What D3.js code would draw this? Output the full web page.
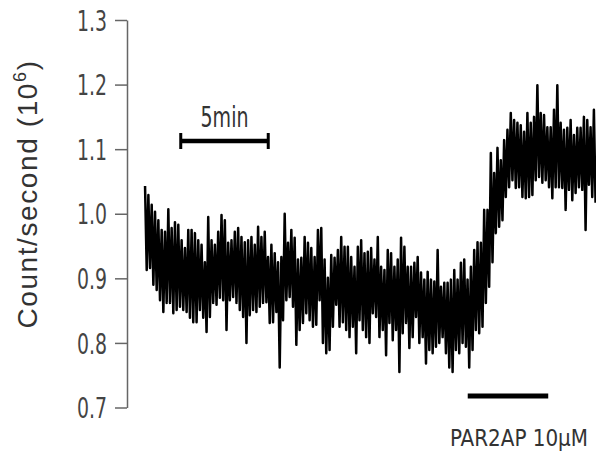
<!DOCTYPE html>
<html><head><meta charset="utf-8">
<script src="https://cdn.jsdelivr.net/npm/d3@7"></script>
<style>body{margin:0;background:#fff}svg{display:block}</style>
</head><body><svg id="c" width="596" height="459"></svg>
<script>
// ---- data ----
const yTicks = [0.7, 0.8, 0.9, 1.0, 1.1, 1.2, 1.3];
const sampleStartMin = 0.06;   // time of first sample (min)
const sampleStepMin = 0.19;    // sampling interval (min)
const traceHigh = [
1.043,1.029,1.014,1.003,0.990,0.975,0.972,1.007,0.978,0.987,0.983,0.959,0.947,0.975,0.975,0.970,0.959,0.952,0.925,0.995,0.959,0.952,0.972,0.998,0.990,0.955,0.959,0.972,0.978,0.964,0.956,0.959,0.964,0.952,
0.980,0.964,0.972,0.933,0.952,0.939,0.925,0.933,1.000,0.955,0.975,0.963,0.929,0.932,0.964,0.955,0.947,0.933,0.975,0.978,0.929,0.901,0.936,0.932,0.944,0.964,0.949,0.949,0.933,0.918,0.949,0.959,0.939,
0.941,0.947,0.929,0.964,0.918,0.913,0.944,0.939,0.918,0.929,0.963,0.949,0.918,0.918,0.924,0.933,0.909,0.898,0.910,0.898,0.895,0.944,0.887,0.893,0.893,0.898,0.913,0.898,0.924,0.929,0.898,0.918,0.944,0.956,
0.955,1.006,1.006,1.094,1.063,1.102,1.083,1.114,1.130,1.156,1.145,1.141,1.137,1.127,1.156,1.141,1.150,1.199,1.156,1.153,1.134,1.134,1.161,1.199,1.141,1.130,1.133,1.145,1.122,1.133,1.133,1.150,1.145,1.134,1.161
];
const traceLow = [
0.913,0.916,0.890,0.882,0.866,0.848,0.862,0.862,0.846,0.851,0.856,0.851,0.848,0.839,0.832,0.832,0.851,0.839,0.817,0.840,0.862,0.859,0.870,0.866,0.820,0.866,0.871,0.862,0.851,0.840,0.800,0.843,0.851,0.848,
0.856,0.862,0.863,0.831,0.832,0.848,0.762,0.835,0.866,0.871,0.856,0.797,0.820,0.831,0.846,0.835,0.825,0.828,0.866,0.800,0.784,0.789,0.825,0.859,0.825,0.832,0.820,0.809,0.825,0.784,0.835,0.820,0.809,
0.800,0.846,0.840,0.809,0.820,0.781,0.831,0.804,0.820,0.755,0.815,0.831,0.792,0.809,0.840,0.800,0.809,0.768,0.789,0.784,0.794,0.800,0.809,0.784,0.762,0.755,0.789,0.784,0.800,0.794,0.762,0.789,0.820,0.815,
0.825,0.862,0.887,0.925,0.970,0.980,0.990,1.026,1.041,1.052,1.040,1.041,1.026,1.024,1.026,1.029,1.052,1.057,1.048,1.052,1.041,1.024,1.041,1.041,1.040,1.006,1.037,1.021,1.032,1.041,1.037,0.975,1.045,1.026,1.017
];
const scaleBarMin = [2.1, 7.1];
const scaleBarLabel = "5min";
const drugBarMin = [18.5, 23.1];
const drugLabel = "PAR2AP 10\u03BCM";
const yTitleMain = "Count/second (10";
const yTitleSup = "6";
const yTitleEnd = ")";

// ---- drawing ----
const svg = d3.select("#c");
const narrow = "'Liberation Sans Narrow','DejaVu Sans Condensed','Arial Narrow',sans-serif";
const x = d3.scaleLinear().domain([0, 25.83]).range([144, 596]);
const y = d3.scaleLinear().domain([0.7, 1.3]).range([407.5, 20]);

// y axis
const ax = svg.append("g").attr("transform", "translate(127,0)")
  .call(d3.axisLeft(y).tickValues(yTicks).tickFormat(d3.format(".1f"))
    .tickSize(12).tickSizeOuter(0).tickPadding(8));
ax.select(".domain").attr("stroke", "#666").attr("stroke-width", 1.5);
ax.selectAll(".tick line").attr("stroke", "#666").attr("stroke-width", 1.5);
ax.selectAll(".tick text")
  .attr("fill", "#444").style("font-family", narrow).style("font-size", "28px")
  .attr("dy", "0.36em")
  .attr("textLength", 30).attr("lengthAdjust", "spacingAndGlyphs");

// y title
const tt = svg.append("text")
  .attr("transform", "translate(37,194) rotate(-90)")
  .attr("text-anchor", "middle")
  .attr("fill", "#333")
  .style("font-family", "'Liberation Sans',Arial,sans-serif")
  .style("font-size", "28px")
  .style("letter-spacing", "1.6px");
tt.append("tspan").text(yTitleMain);
tt.append("tspan").attr("dy", -11).style("font-size", "18px").text(yTitleSup);
tt.append("tspan").attr("dy", 11).text(yTitleEnd);

// trace
const pts = [];
traceHigh.forEach((h, i) => {
  const t = sampleStartMin + i * sampleStepMin;
  pts.push([t, h]);
  pts.push([t + sampleStepMin / 2, traceLow[i]]);
});
svg.append("path")
  .attr("d", d3.line().x(d => x(d[0])).y(d => y(d[1]))(pts))
  .attr("fill", "none").attr("stroke", "#000")
  .attr("stroke-width", 2.5).attr("stroke-linejoin", "round");

// 5 min scale bar
const sbY = 141;
const sb = svg.append("g");
sb.append("line").attr("x1", x(scaleBarMin[0])).attr("x2", x(scaleBarMin[1]))
  .attr("y1", sbY).attr("y2", sbY).attr("stroke", "#000").attr("stroke-width", 4.5);
scaleBarMin.forEach(t => sb.append("line").attr("x1", x(t)).attr("x2", x(t))
  .attr("y1", sbY - 8).attr("y2", sbY + 8).attr("stroke", "#000").attr("stroke-width", 3));
sb.append("text").attr("x", x((scaleBarMin[0] + scaleBarMin[1]) / 2)).attr("y", 127)
  .attr("text-anchor", "middle").attr("fill", "#333")
  .style("font-family", narrow).style("font-size", "28px")
  .attr("textLength", 48).attr("lengthAdjust", "spacingAndGlyphs")
  .text(scaleBarLabel);

// drug bar
svg.append("line").attr("x1", x(drugBarMin[0])).attr("x2", x(drugBarMin[1]))
  .attr("y1", 396).attr("y2", 396).attr("stroke", "#000").attr("stroke-width", 5);
svg.append("text").attr("x", 588).attr("y", 446).attr("fill", "#333")
  .attr("text-anchor", "end")
  .style("font-family", narrow).style("font-size", "23px")
  .attr("textLength", 138).attr("lengthAdjust", "spacingAndGlyphs")
  .text(drugLabel);
</script></body></html>
